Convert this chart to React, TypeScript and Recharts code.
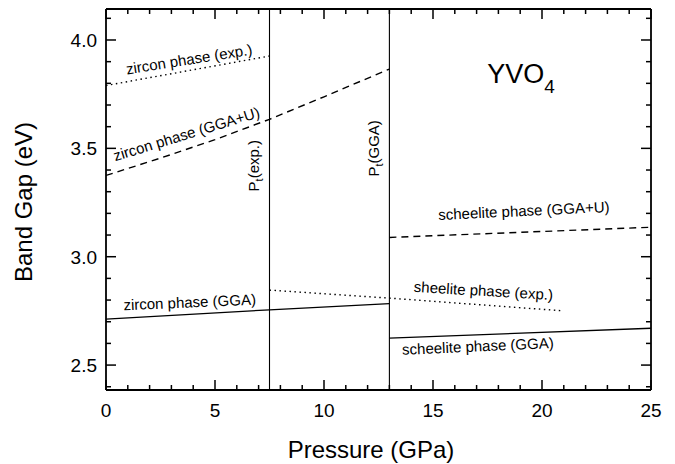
import React from 'react';
import { LineChart, Line, XAxis, YAxis, ReferenceLine, ReferenceDot } from 'recharts';

const FONT = '"Liberation Sans", Arial, Helvetica, sans-serif';

// Tick values
const pressureTicks = [0, 1, 2, 3, 4, 5, 6, 7, 8, 9, 10, 11, 12, 13, 14, 15, 16, 17, 18, 19, 20, 21, 22, 23, 24, 25];
const majorPressureTicks = [0, 5, 10, 15, 20, 25];
const gapTicks = [2.4, 2.5, 2.6, 2.7, 2.8, 2.9, 3.0, 3.1, 3.2, 3.3, 3.4, 3.5, 3.6, 3.7, 3.8, 3.9, 4.0, 4.1];
const majorGapTicks = [2.5, 3.0, 3.5, 4.0];
const pressureDomain = [0, 25];
const gapDomain = [2.385, 4.143];

// Series (pressure in GPa, band gap in eV)
const zirconExp = [
  { p: 0, e: 3.79 },
  { p: 7.5, e: 3.926 },
];
const zirconGGAU = [
  { p: 0, e: 3.375 },
  { p: 2.5, e: 3.455 },
  { p: 5, e: 3.54 },
  { p: 7.5, e: 3.634 },
  { p: 10, e: 3.738 },
  { p: 13, e: 3.866 },
];
const zirconGGA = [
  { p: 0, e: 2.712 },
  { p: 7.5, e: 2.755 },
  { p: 13, e: 2.784 },
];
const scheeliteExp = [
  { p: 7.5, e: 2.846 },
  { p: 13, e: 2.809 },
  { p: 21, e: 2.75 },
];
const scheeliteGGA = [
  { p: 13, e: 2.624 },
  { p: 25, e: 2.67 },
];
const scheeliteGGAU = [
  { p: 13, e: 3.089 },
  { p: 25, e: 3.136 },
];

// Transition pressures
const transitions = [7.5, 13];

// Curve annotations (text, anchor in data coords, rotation)
const annotations = [
  { text: 'zircon phase (exp.)', p: 3.85, e: 3.887, angle: -9 },
  { text: 'zircon phase (GGA+U)', p: 3.76, e: 3.543, angle: -17 },
  { text: 'zircon phase (GGA)', p: 3.85, e: 2.766, angle: -2.5 },
  { text: 'sheelite phase (exp.)', p: 17.3, e: 2.819, angle: 3.4 },
  { text: 'scheelite phase (GGA)', p: 17.07, e: 2.563, angle: -2.6 },
  { text: 'scheelite phase (GGA+U)', p: 19.18, e: 3.188, angle: -2.7 },
];
const transitionLabels = [
  { main: 'P', sub: 't', rest: '(exp.)', p: 7.02, e: 3.42 },
  { main: 'P', sub: 't', rest: '(GGA)', p: 12.53, e: 3.5 },
];
const compound = { main: 'YVO', sub: '4', p: 17.49, e: 3.8 };

const isMajorP = (v: number) => majorPressureTicks.some((m) => Math.abs(m - v) < 1e-6);
const isMajorE = (v: number) => majorGapTicks.some((m) => Math.abs(m - v) < 1e-6);

const BottomTick = (props: any) => {
  const { x, y, payload } = props;
  const major = isMajorP(payload.value);
  return (
    <g>
      <line x1={x} y1={y} x2={x} y2={y - (major ? 10 : 5)} stroke="#000" strokeWidth={1.5} />
      {major && (
        <text x={x} y={y + 27} textAnchor="middle" fontSize={19} fill="#000" fontFamily={FONT}>
          {payload.value}
        </text>
      )}
    </g>
  );
};

const TopTick = (props: any) => {
  const { x, y, payload } = props;
  const major = isMajorP(payload.value);
  return <line x1={x} y1={y} x2={x} y2={y + (major ? 10 : 5)} stroke="#000" strokeWidth={1.5} />;
};

const LeftTick = (props: any) => {
  const { x, y, payload } = props;
  const major = isMajorE(payload.value);
  return (
    <g>
      <line x1={x} y1={y} x2={x + (major ? 10 : 5)} y2={y} stroke="#000" strokeWidth={1.5} />
      {major && (
        <text x={x - 9} y={y + 7} textAnchor="end" fontSize={19} fill="#000" fontFamily={FONT}>
          {Number(payload.value).toFixed(1)}
        </text>
      )}
    </g>
  );
};

const RightTick = (props: any) => {
  const { x, y, payload } = props;
  const major = isMajorE(payload.value);
  return <line x1={x} y1={y} x2={x - (major ? 10 : 5)} y2={y} stroke="#000" strokeWidth={1.5} />;
};

const annLabel = (ann: { text: string; angle: number }) => (props: any) => {
  const vb = props.viewBox || {};
  const x = vb.x + (vb.width || 0) / 2;
  const y = vb.y + (vb.height || 0) / 2;
  return (
    <text
      x={x}
      y={y}
      textAnchor="middle"
      fontSize={15}
      fill="#000"
      fontFamily={FONT}
      transform={`rotate(${ann.angle} ${x} ${y})`}
    >
      {ann.text}
    </text>
  );
};

const ptLabel = (lab: { main: string; sub: string; rest: string }) => (props: any) => {
  const vb = props.viewBox || {};
  const x = vb.x + (vb.width || 0) / 2;
  const y = vb.y + (vb.height || 0) / 2;
  return (
    <text x={x} y={y} textAnchor="middle" fontSize={15} fill="#000" fontFamily={FONT} transform={`rotate(-90 ${x} ${y})`}>
      {lab.main}
      <tspan fontSize={11} dy={4}>
        {lab.sub}
      </tspan>
      <tspan dy={-4}>{lab.rest}</tspan>
    </text>
  );
};

const compoundLabel = (props: any) => {
  const vb = props.viewBox || {};
  const x = vb.x + (vb.width || 0) / 2;
  const y = vb.y + (vb.height || 0) / 2;
  return (
    <text x={x} y={y} textAnchor="start" fontSize={27} fill="#000" fontFamily={FONT}>
      {compound.main}
      <tspan fontSize={19} dy={10}>
        {compound.sub}
      </tspan>
    </text>
  );
};

const axisLineStyle = { stroke: '#000', strokeWidth: 1.8 };

export default function App() {
  return (
    <div style={{ position: 'absolute', left: 0, top: 0, width: 675, height: 464, background: '#fff' }}>
      <LineChart width={675} height={464} margin={{ top: 5, right: 20, bottom: 44, left: 46 }}>
        <XAxis
          type="number"
          dataKey="p"
          domain={pressureDomain}
          ticks={pressureTicks}
          interval={0}
          tickSize={0}
          tickMargin={0}
          tickLine={false}
          tick={<BottomTick />}
          axisLine={axisLineStyle}
          height={30}
          allowDataOverflow
        />
        <XAxis
          xAxisId="top"
          orientation="top"
          type="number"
          dataKey="p"
          domain={pressureDomain}
          ticks={pressureTicks}
          interval={0}
          tickSize={0}
          tickMargin={0}
          tickLine={false}
          tick={<TopTick />}
          axisLine={axisLineStyle}
          height={4}
          allowDataOverflow
        />
        <YAxis
          type="number"
          domain={gapDomain}
          ticks={gapTicks}
          interval={0}
          tickSize={0}
          tickMargin={0}
          tickLine={false}
          tick={<LeftTick />}
          axisLine={axisLineStyle}
          width={60}
          allowDataOverflow
        />
        <YAxis
          yAxisId="right"
          orientation="right"
          type="number"
          domain={gapDomain}
          ticks={gapTicks}
          interval={0}
          tickSize={0}
          tickMargin={0}
          tickLine={false}
          tick={<RightTick />}
          axisLine={axisLineStyle}
          width={4}
          allowDataOverflow
        />

        {transitions.map((t) => (
          <ReferenceLine key={t} x={t} stroke="#000" strokeWidth={1.1} />
        ))}

        <Line data={zirconExp} dataKey="e" stroke="#000" strokeWidth={1.4} strokeDasharray="1.5 3.5" dot={false} isAnimationActive={false} />
        <Line data={zirconGGAU} dataKey="e" stroke="#000" strokeWidth={1.4} strokeDasharray="7 5" dot={false} isAnimationActive={false} />
        <Line data={zirconGGA} dataKey="e" stroke="#000" strokeWidth={1.3} dot={false} isAnimationActive={false} />
        <Line data={scheeliteExp} dataKey="e" stroke="#000" strokeWidth={1.4} strokeDasharray="1.5 3.5" dot={false} isAnimationActive={false} />
        <Line data={scheeliteGGA} dataKey="e" stroke="#000" strokeWidth={1.3} dot={false} isAnimationActive={false} />
        <Line data={scheeliteGGAU} dataKey="e" stroke="#000" strokeWidth={1.4} strokeDasharray="7 5" dot={false} isAnimationActive={false} />

        {annotations.map((a) => (
          <ReferenceDot key={a.text} x={a.p} y={a.e} r={0} fill="none" stroke="none" label={annLabel(a)} />
        ))}
        {transitionLabels.map((l) => (
          <ReferenceDot key={l.rest} x={l.p} y={l.e} r={0} fill="none" stroke="none" label={ptLabel(l)} />
        ))}
        <ReferenceDot x={compound.p} y={compound.e} r={0} fill="none" stroke="none" label={compoundLabel} />

        <text x={371} y={458} textAnchor="middle" fontSize={24} fill="#000" fontFamily={FONT}>
          Pressure (GPa)
        </text>
        <text x={32} y={202} textAnchor="middle" fontSize={24} fill="#000" fontFamily={FONT} transform="rotate(-90 32 202)">
          Band Gap (eV)
        </text>
      </LineChart>
    </div>
  );
}
